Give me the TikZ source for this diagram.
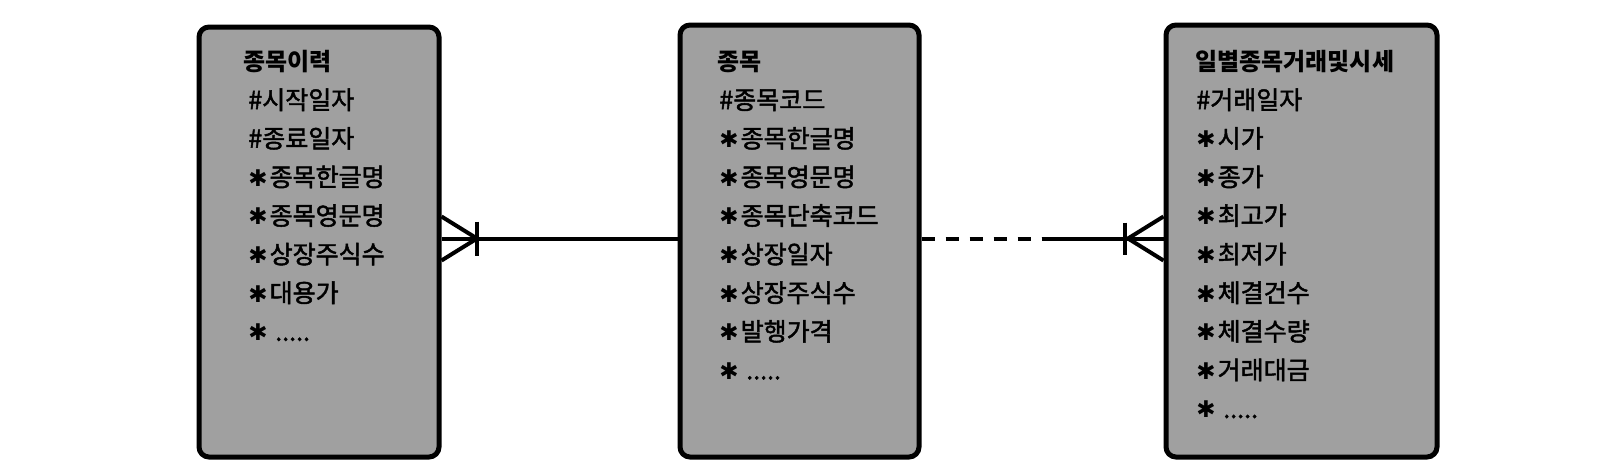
\documentclass[tikz,border=0pt]{standalone}
\usepackage{fontspec}
\newfontfamily\kr{Noto Sans CJK KR}
\newfontfamily\krm[FakeBold=1.8]{Noto Sans CJK KR}
\newfontfamily\dv{DejaVu Sans}
\definecolor{boxgray}{RGB}{160,160,160}
\newcommand\myast{{\dv\fontsize{11.5pt}{12pt}\selectfont ✱}\hspace{1pt}}
\newcommand\mymore{\myast{}\ .....}
\tikzset{
  entity/.style={draw=black, line width=2.5pt, rounded corners=5pt, fill=boxgray, inner sep=0pt, anchor=north west},
  ttl/.style={anchor=base west, inner sep=0pt, font=\kr\bfseries\fontsize{12pt}{14pt}\selectfont},
  attr/.style={anchor=base west, inner sep=0pt, font=\krm\fontsize{12.5pt}{14pt}\selectfont},
  rel/.style={line width=2pt, draw=black},
}
\begin{document}
\begin{tikzpicture}[x=0.5pt,y=-0.5pt]
\useasboundingbox (0,0) rectangle (1600,462);
% entities
\node[entity, minimum width=120pt, minimum height=215pt] (hist) at (196.5,24.5) {};
\node[entity, minimum width=119.5pt, minimum height=216pt] (item) at (677.5,22.5) {};
\node[entity, minimum width=135.5pt, minimum height=216pt] (daily) at (1163.5,22.5) {};
% texts: left
\node[ttl] (h0) at (243,70.5) {종목이력};
\foreach \t [count=\i] in {{\#시작일자},{\#종료일자},{\myast{}종목한글명},{\myast{}종목영문명},{\myast{}상장주식수},{\myast{}대용가},{\mymore}}
  \node[attr] (h\i) at (248,70.5+38.6*\i) {\t};
% middle
\node[ttl] (m0) at (717,70.5) {종목};
\foreach \t [count=\i] in {{\#종목코드},{\myast{}종목한글명},{\myast{}종목영문명},{\myast{}종목단축코드},{\myast{}상장일자},{\myast{}상장주식수},{\myast{}발행가격},{\mymore}}
  \node[attr] (m\i) at (719,70.5+38.6*\i) {\t};
% right
\node[ttl] (d0) at (1195,70.5) {일별종목거래및시세};
\foreach \t [count=\i] in {{\#거래일자},{\myast{}시가},{\myast{}종가},{\myast{}최고가},{\myast{}최저가},{\myast{}체결건수},{\myast{}체결수량},{\myast{}거래대금},{\mymore}}
  \node[attr] (d\i) at (1196,70.5+38.6*\i) {\t};
% relationship anchors
\coordinate (yl) at (0,238.5);
\coordinate (hE) at (hist.east |- yl);
\coordinate (iW) at (item.west |- yl);
\coordinate (iE) at (item.east |- yl);
\coordinate (dW) at (daily.west |- yl);
\path (hE) ++(35.5,0) coordinate (hC);
\path (dW) ++(-35.5,0) coordinate (dC);
\path (dW) ++(-38.5,0) coordinate (dB);
\path (iE) ++(120,0) coordinate (dEnd);
% left relationship: many (left) to one
\draw[rel] (hE) -- (iW);
\draw[rel] ([yshift=11pt]hE) -- (hC) -- ([yshift=-11pt]hE);
\draw[rel] ([yshift=8.5pt]hC) -- ([yshift=-8.5pt]hC);
% right relationship: dashed then solid
\draw[rel, dash pattern=on 6.5pt off 5.5pt] (iE) -- (dEnd);
\draw[rel] (dEnd) -- (dW);
\draw[rel] ([yshift=11pt]dW) -- (dC) -- ([yshift=-11pt]dW);
\draw[rel] ([yshift=8pt]dB) -- ([yshift=-8pt]dB);
\end{tikzpicture}
\end{document}
